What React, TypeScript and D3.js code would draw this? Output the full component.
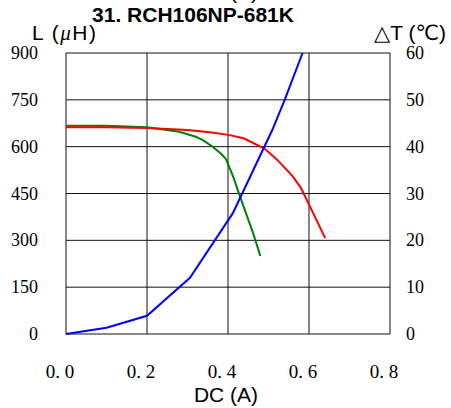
import React from "react";
import * as d3 from "d3";

const xTicks = [0, 0.2, 0.4, 0.6, 0.8];
const xTickLabels = ["0. 0", "0. 2", "0. 4", "0. 6", "0. 8"];
const yLeftTicks = [0, 150, 300, 450, 600, 750, 900];
const yRightTicks = [0, 10, 20, 30, 40, 50, 60];

// Inductance curve (red) : [DC A, L uH]
const redL: [number, number][] = [
  [0, 662], [0.1, 662], [0.2, 660], [0.3, 653], [0.36, 645], [0.405, 637],
  [0.44, 626], [0.49, 594], [0.52, 560], [0.56, 505], [0.58, 468], [0.64, 307],
];
// Inductance curve (green)
const greenL: [number, number][] = [
  [0, 667], [0.1, 667], [0.2, 662], [0.28, 648], [0.32, 632], [0.338, 621],
  [0.363, 599], [0.385, 575], [0.395, 560], [0.413, 503], [0.43, 439],
  [0.462, 323], [0.48, 250],
];
// Temperature rise (blue) : [DC A, dT C]
const blueT: [number, number][] = [
  [0, 0], [0.1, 1.35], [0.2, 3.9], [0.306, 12], [0.412, 25.8], [0.509, 43.5],
  [0.54, 50], [0.584, 60],
];

const W = 451, H = 408;
const left = 66, right = 390, top = 53, bottom = 334;

export default function App() {
  const x = d3.scaleLinear().domain([0, 0.8]).range([left, right]);
  const yL = d3.scaleLinear().domain([0, 900]).range([bottom, top]);
  const yR = d3.scaleLinear().domain([0, 60]).range([bottom, top]);
  const lineL = d3.line<[number, number]>().x(d => x(d[0])).y(d => yL(d[1]));
  const lineR = d3.line<[number, number]>().x(d => x(d[0])).y(d => yR(d[1]));
  const serif = "'Liberation Serif', 'DejaVu Serif', serif";
  const sans = "'Liberation Sans', Arial, 'DejaVu Sans', sans-serif";
  return (
    <svg width={W} height={H} style={{ position: "absolute", left: 0, top: 0, background: "#fff" }}>
      <rect x={0} y={0} width={W} height={H} fill="#fff" />
      {/* grid */}
      {yLeftTicks.map(v => (
        <line key={"gy" + v} x1={left} x2={right} y1={yL(v)} y2={yL(v)} stroke="#111" strokeWidth={1} />
      ))}
      {xTicks.map(v => (
        <line key={"gx" + v} x1={x(v)} x2={x(v)} y1={top} y2={bottom} stroke="#111" strokeWidth={1} />
      ))}
      {/* curves */}
      <path d={lineL(greenL) || ""} fill="none" stroke="#008000" strokeWidth={2} />
      <path d={lineL(redL) || ""} fill="none" stroke="#ff0000" strokeWidth={2} />
      <path d={lineR(blueT) || ""} fill="none" stroke="#0000ff" strokeWidth={2} />
      {/* left tick labels */}
      {yLeftTicks.map(v => (
        <text key={"ly" + v} x={38} y={yL(v) + 6} textAnchor="end" fontFamily={serif} fontSize={18} fill="#000">
          {v}
        </text>
      ))}
      {yRightTicks.map(v => (
        <text key={"ry" + v} x={406} y={yR(v) + 6} textAnchor="start" fontFamily={serif} fontSize={18} fill="#000">
          {v}
        </text>
      ))}
      {xTicks.map((v, i) => (
        <text key={"lx" + v} x={x(v) - 6} y={378} textAnchor="middle" fontFamily={serif} fontSize={19} fill="#000">
          {xTickLabels[i]}
        </text>
      ))}
      {/* titles */}
      <text x={226} y={-1} textAnchor="middle" fontFamily={sans} fontSize={21} fill="#000">DC (A)</text>
      <text x={193} y={22} textAnchor="middle" fontFamily={sans} fontSize={21} fontWeight="bold" fill="#000">
        31. RCH106NP-681K
      </text>
      <text x={32} y={40} fontFamily={sans} fontSize={21} fill="#000" letterSpacing={1.5}>
        L (<tspan fontStyle="italic" fontFamily={serif}>μ</tspan>H)
      </text>
      <text x={446} y={40} textAnchor="end" fontFamily={sans} fontSize={21} fill="#000">
        △T (℃)
      </text>
      <text x={226} y={402} textAnchor="middle" fontFamily={sans} fontSize={21} fill="#000">DC (A)</text>
    </svg>
  );
}
